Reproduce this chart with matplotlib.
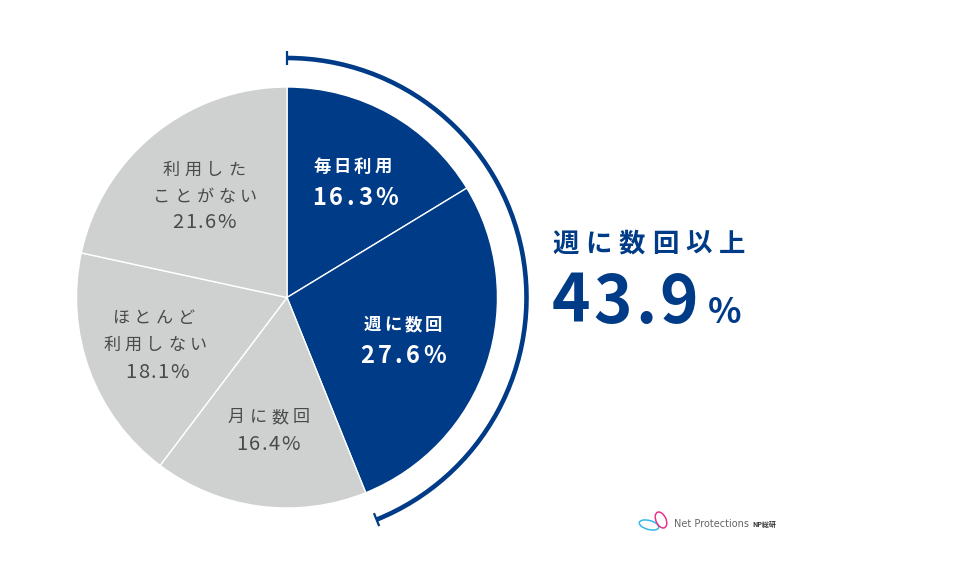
import numpy as np
import matplotlib
matplotlib.use("Agg")
import matplotlib.pyplot as plt
from matplotlib.patches import Arc, Ellipse

plt.rcParams['font.family'] = ['Noto Sans CJK JP', 'DejaVu Sans']

# data
labels = ['毎日利用', '週に数回', '月に数回', 'ほとんど\n利用しない', '利用した\nことがない']
values = [16.3, 27.6, 16.4, 18.1, 21.6]
highlight = [True, True, False, False, False]
total_label = '週に数回以上'
total_value = 43.9

BLUE = '#003b87'
GRAY = '#cfd0d0'
TXT = '#4a4a4a'

H = 570

fig = plt.figure(figsize=(9.6, 5.7), dpi=100)
ax = fig.add_axes([0, 0, 1, 1])
ax.set_xlim(0, 960)
ax.set_ylim(0, H)
renderer = fig.canvas.get_renderer()


def tracked(x, y, s, track, ha='left', **kw):
    """draw one line char by char with extra spacing (pixels), y from top"""
    arts, widths = [], []
    for ch in s:
        t = ax.text(0, H - y, ch, ha='left', **kw)
        arts.append(t)
        widths.append(t.get_window_extent(renderer).width)
    total = sum(widths) + track * (len(s) - 1)
    x0 = x if ha == 'left' else x - total / 2
    for t, w in zip(arts, widths):
        t.set_x(x0)
        x0 += w + track
    return x0 - track


cx, cy, r = 287, H - 297.5, 210.5
colors = [BLUE if h else GRAY for h in highlight]
wedges, _ = ax.pie(values, colors=colors, startangle=90, counterclock=False,
                   center=(cx, cy), radius=r,
                   wedgeprops=dict(edgecolor='white', linewidth=1))

# gray slices: label lines + value
gray_pos = {2: ([269, 268], [417, 445]),
            3: ([153, 155, 157], [318, 345, 372]),
            4: ([204, 205, 204], [170, 197, 222])}
for i, (xs, ys) in gray_pos.items():
    lines = labels[i].split('\n')
    for line, xx, yy in zip(lines, xs, ys):
        tracked(xx, yy, line, 4.5, ha='center', va='center', color=TXT, fontsize=12.3)
    tracked(xs[-1], ys[-1], f'{values[i]}%', 1.5, ha='center', va='center',
            color=TXT, fontsize=14.5)

# blue slices
tracked(313, 167, labels[0], 3, va='center', color='white', fontsize=12.5, fontweight='bold')
tracked(312, 198, f'{values[0]}%', 3.5, va='center', color='white', fontsize=17, fontweight='bold')
tracked(403, 325, labels[1], 3, ha='center', va='center', color='white', fontsize=12.5, fontweight='bold')
tracked(403, 356, f'{values[1]}%', 3.5, ha='center', va='center', color='white', fontsize=17, fontweight='bold')

# bracket arc around the highlighted share
share = sum(v for v, h in zip(values, highlight) if h)
ra = 239.5
ang_end = 90 - share * 3.6
ax.add_patch(Arc((cx, cy), 2 * ra, 2 * ra, theta1=ang_end, theta2=90,
                 color=BLUE, lw=3.3))
for a in (90, ang_end):
    t = np.deg2rad(a)
    ax.plot([cx + (ra - 7) * np.cos(t), cx + (ra + 7) * np.cos(t)],
            [cy + (ra - 7) * np.sin(t), cy + (ra + 7) * np.sin(t)],
            color=BLUE, lw=1.6, solid_capstyle='butt')

# total on the right
tracked(552, 244, total_label, 7, va='center', color=BLUE, fontsize=19, fontweight='bold')
xe = tracked(552, 323, f'{total_value}', 3, va='baseline', color=BLUE, fontsize=47, fontweight='bold')
ax.text(xe + 10, H - 323, '%', ha='left', va='baseline', color=BLUE,
        fontsize=25, fontweight='bold')

# logo
ax.add_patch(Ellipse((649, H - 525), 20, 9, angle=-15, fill=False, ec='#38b6e8', lw=1.1))
ax.add_patch(Ellipse((661, H - 520), 10, 17, angle=25, fill=False, ec='#e8358a', lw=1.1))
ax.text(674, H - 524, 'Net Protections', ha='left', va='center',
        color='#666666', fontsize=7, family='DejaVu Sans')
ax.text(752, H - 524, 'NP総研', ha='left', va='center', color='#333333',
        fontsize=5, fontweight='bold')

ax.set_xlim(0, 960)
ax.set_ylim(0, H)
ax.set_aspect('equal')
ax.axis('off')

fig.savefig('out.png', dpi=100, facecolor='white')
